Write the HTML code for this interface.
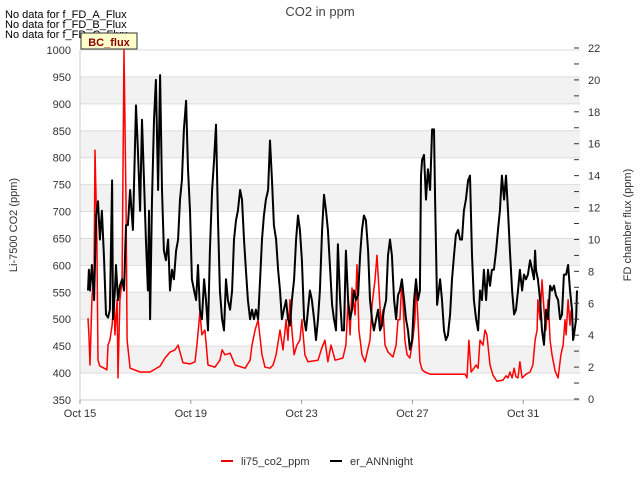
<!DOCTYPE html>
<html><head><meta charset="utf-8"><style>
body{margin:0;background:#fff;font-family:"Liberation Sans",sans-serif;}
svg text{font-family:"Liberation Sans",sans-serif;}
</style></head><body>
<svg id="c" width="640" height="480" xmlns="http://www.w3.org/2000/svg">
<text x="320" y="16" text-anchor="middle" font-size="13" fill="#444">CO2 in ppm</text>
<text x="5" y="18" font-size="11" fill="#000">No data for f_FD_A_Flux</text>
<text x="5" y="28" font-size="11" fill="#000">No data for f_FD_B_Flux</text>
<text x="5" y="38" font-size="11" fill="#000">No data for f_FD_C_Flux</text>
<g id="bands"></g>
<g id="series"></g>
<rect x="81" y="33" width="56" height="16" fill="#ffffcc" stroke="#333" stroke-width="1"/>
<text x="109" y="46" text-anchor="middle" font-size="11" font-weight="bold" fill="#8b0000">BC_flux</text>
<text transform="translate(17,225) rotate(-90)" text-anchor="middle" font-size="11" fill="#333">Li-7500 CO2 (ppm)</text>
<text transform="translate(631,225) rotate(-90)" text-anchor="middle" font-size="11" fill="#333">FD chamber flux (ppm)</text>
<line x1="221" y1="461" x2="233" y2="461" stroke="#e00" stroke-width="2"/>
<text x="241" y="465" font-size="11" fill="#333">li75_co2_ppm</text>
<line x1="330" y1="461" x2="342" y2="461" stroke="#000" stroke-width="2"/>
<text x="350" y="465" font-size="11" fill="#333">er_ANNnight</text>
</svg>
<script>
const xTickLabels=["Oct 15","Oct 19","Oct 23","Oct 27","Oct 31"];
const xTickDays=[0,4,8,12,16];
const leftTicks=[350,400,450,500,550,600,650,700,750,800,850,900,950,1000];
const rightTicks=[0,2,4,6,8,10,12,14,16,18,20,22];
const redDays=[0.29,0.32,0.36,0.43,0.51,0.54,0.58,0.61,0.65,0.72,0.87,0.97,1.01,1.08,1.16,1.23,1.26,1.34,1.37,1.44,1.52,1.59,1.66,1.70,1.81,2.17,2.53,2.89,3.07,3.25,3.43,3.54,3.61,3.72,3.97,4.15,4.22,4.33,4.40,4.51,4.62,4.87,5.05,5.13,5.23,5.42,5.60,5.96,6.14,6.21,6.32,6.43,6.50,6.57,6.68,6.86,6.97,7.08,7.22,7.33,7.44,7.51,7.58,7.65,7.73,7.83,7.94,8.01,8.12,8.23,8.59,8.74,8.84,8.95,9.06,9.21,9.49,9.60,9.68,9.75,9.82,9.93,10.0,10.07,10.18,10.29,10.47,10.54,10.65,10.72,10.79,10.87,10.94,11.01,11.12,11.30,11.41,11.48,11.55,11.62,11.73,11.81,11.91,12.02,12.09,12.13,12.20,12.27,12.35,12.45,12.64,13.90,13.97,14.04,14.12,14.22,14.30,14.37,14.44,14.55,14.62,14.69,14.80,14.91,15.05,15.27,15.38,15.45,15.52,15.60,15.67,15.74,15.81,15.88,15.96,16.10,16.25,16.35,16.43,16.50,16.53,16.61,16.68,16.75,16.82,16.90,16.97,17.04,17.15,17.26,17.36,17.44,17.51,17.55,17.62,17.69,17.73];
const redPpm=[502,471,415,536,591,814,721,638,424,413,409,406,452,461,489,536,471,536,391,536,573,1000,721,461,409,402,402,413,428,439,443,452,439,419,417,421,452,513,471,480,415,411,424,443,434,437,415,409,424,452,480,499,465,434,411,409,415,434,480,443,499,461,536,480,434,452,461,499,434,421,424,448,461,421,452,424,428,452,536,471,558,508,601,480,434,421,461,526,573,619,558,489,517,452,439,430,452,499,499,573,461,434,428,465,499,569,499,421,406,402,398,398,391,461,402,409,415,409,461,452,480,471,415,396,385,387,395,391,402,391,409,393,391,421,391,398,402,415,461,480,536,499,573,517,480,536,461,434,404,391,434,452,499,471,536,489,517];
const blackDays=[0.29,0.32,0.36,0.43,0.51,0.58,0.65,0.72,0.79,0.87,0.94,1.01,1.08,1.16,1.19,1.26,1.30,1.37,1.44,1.52,1.59,1.66,1.73,1.81,1.91,2.02,2.09,2.17,2.24,2.31,2.38,2.45,2.49,2.53,2.60,2.67,2.74,2.82,2.89,2.96,3.03,3.10,3.18,3.25,3.32,3.39,3.47,3.54,3.61,3.68,3.75,3.83,3.90,3.97,4.04,4.12,4.19,4.26,4.33,4.40,4.48,4.55,4.62,4.69,4.77,4.84,4.91,4.98,5.05,5.13,5.20,5.27,5.34,5.42,5.49,5.56,5.63,5.70,5.78,5.85,5.92,5.99,6.06,6.14,6.21,6.28,6.35,6.43,6.50,6.57,6.64,6.71,6.79,6.86,6.93,7.00,7.08,7.15,7.22,7.29,7.36,7.44,7.51,7.58,7.65,7.73,7.80,7.87,7.94,8.01,8.09,8.16,8.23,8.30,8.37,8.45,8.52,8.59,8.66,8.74,8.81,8.88,8.95,9.02,9.10,9.17,9.24,9.31,9.39,9.46,9.53,9.60,9.68,9.75,9.82,9.89,9.96,10.04,10.11,10.18,10.25,10.32,10.40,10.47,10.54,10.61,10.69,10.76,10.83,10.90,10.97,11.05,11.12,11.19,11.26,11.34,11.41,11.48,11.55,11.62,11.70,11.77,11.84,11.91,11.99,12.06,12.13,12.20,12.27,12.31,12.35,12.42,12.49,12.56,12.64,12.71,12.78,12.82,12.89,13.00,13.07,13.14,13.21,13.28,13.36,13.43,13.50,13.57,13.65,13.72,13.79,13.86,13.93,14.01,14.08,14.15,14.22,14.30,14.37,14.44,14.51,14.58,14.66,14.73,14.80,14.87,14.94,15.02,15.09,15.16,15.23,15.31,15.38,15.45,15.52,15.60,15.67,15.74,15.81,15.88,15.96,16.03,16.10,16.17,16.25,16.32,16.39,16.43,16.46,16.53,16.61,16.68,16.75,16.82,16.90,16.97,17.04,17.11,17.18,17.26,17.33,17.40,17.47,17.55,17.62,17.69,17.76,17.80,17.83,17.91,17.94];
const blackFlux=[6.8,8.1,6.8,8.4,6.2,11.5,12.4,10.0,11.8,8.7,5.3,5.1,5.6,13.7,5.0,6.8,8.4,6.2,7.1,7.5,6.8,10.9,10.9,13.1,10.6,18.4,15.6,11.8,17.5,13.7,10.0,6.8,11.8,5.0,12.5,17.5,20.0,13.1,20.3,13.1,9.3,8.7,10.0,6.8,8.1,7.5,9.3,10.0,12.5,13.7,16.9,18.7,14.4,11.8,7.5,6.8,6.2,8.4,5.6,5.0,7.5,6.2,4.3,9.3,13.1,15.0,17.2,11.2,6.8,5.0,4.3,7.5,6.2,5.6,6.8,10.0,11.2,11.8,13.1,12.5,10.0,8.1,6.2,5.0,5.6,5.0,5.6,5.0,7.5,10.0,11.5,12.5,13.1,16.2,13.7,10.9,10.0,8.1,6.8,5.0,5.6,6.2,5.0,4.6,6.2,7.5,10.0,11.5,10.6,8.7,5.0,4.3,5.6,6.8,6.2,5.0,3.7,5.0,6.8,10.6,12.8,11.8,10.6,8.4,5.9,5.0,4.3,9.7,6.2,4.3,4.3,9.3,6.2,5.0,5.6,6.8,6.2,6.5,9.0,10.6,11.5,11.2,9.3,6.2,5.0,4.3,5.0,5.6,4.3,4.6,5.6,6.2,9.0,10.0,9.0,6.2,5.0,6.5,6.8,7.5,6.2,5.0,4.3,3.1,3.7,6.2,7.5,6.2,6.8,14.0,15.0,15.3,12.5,14.4,13.1,16.9,16.9,12.5,5.9,7.5,6.2,4.3,3.7,4.0,5.3,7.5,9.0,10.3,10.6,10.0,10.0,11.8,12.5,13.7,14.0,9.0,6.2,5.0,4.3,6.8,6.2,8.1,6.2,8.1,7.1,8.1,8.1,9.3,10.6,11.8,14.0,12.5,14.0,11.8,9.3,6.8,5.3,5.6,6.8,8.1,6.8,7.8,7.5,7.8,8.7,8.1,7.5,9.3,8.1,7.5,6.2,4.3,3.4,5.6,5.0,7.1,6.8,7.1,6.5,6.2,5.0,5.3,7.8,7.8,8.4,6.8,5.6,3.7,4.0,5.0,6.8];

const NS="http://www.w3.org/2000/svg";
const L=80,R=580,T=50,B=400;
const xS=d=>L+d*(R-L)/18.05;
const yL=v=>B-(v-350)*(B-T)/650;
const yR=v=>399-v*(399-48)/22;
function mk(tag,attrs,parent){const e=document.createElementNS(NS,tag);for(const k in attrs)e.setAttribute(k,attrs[k]);parent.appendChild(e);return e;}
const svg=document.getElementById('c');
const bands=document.getElementById('bands');
const series=document.getElementById('series');
// shaded bands
for(let v=400;v<1000;v+=100){
  const r=mk('rect',{x:L,y:yL(v+50),width:R-L,height:yL(v)-yL(v+50),fill:'#f2f2f2'},bands);
  
  
}
leftTicks.forEach(v=>{
  const g=mk('line',{x1:L,x2:R,y1:yL(v),y2:yL(v),stroke:'#ddd','stroke-width':1},bands);
  
  
  const t=mk('text',{x:L-9,y:yL(v)+4,'text-anchor':'end','font-size':11,fill:'#333'},svg);
  t.textContent=v;
  
  
});
const ax=mk('line',{x1:L,x2:L,y1:T,y2:B,stroke:'#ccc'},bands);


const bx=mk('line',{x1:L,x2:R,y1:B,y2:B,stroke:'#ccc'},bands);


rightTicks.forEach(v=>{
  const t=mk('text',{x:588,y:yR(v)+4,'font-size':11,fill:'#333'},svg);
  t.textContent=v;
  
  
});
for(let v=0;v<=22;v++){
  const tk=mk('line',{x1:574,x2:579,y1:yR(v),y2:yR(v),stroke:'#333'},svg);
  
  
}
xTickDays.forEach((d,i)=>{
  const tk=mk('line',{x1:xS(d),x2:xS(d),y1:B,y2:B+4,stroke:'#999'},svg);
  
  
  const t=mk('text',{x:xS(d),y:B+17,'text-anchor':'middle','font-size':11,fill:'#333'},svg);
  t.textContent=xTickLabels[i];
  
  
});
const rp=redDays.map((d,i)=>xS(d).toFixed(1)+','+yL(redPpm[i]).toFixed(1)).join(' ');
const red=mk('polyline',{points:rp,fill:'none',stroke:'#f00','stroke-width':1.5,'stroke-linejoin':'round'},series);


const bp=blackDays.map((d,i)=>xS(d).toFixed(1)+','+yR(blackFlux[i]).toFixed(1)).join(' ');
const blk=mk('polyline',{points:bp,fill:'none',stroke:'#000','stroke-width':2,'stroke-linejoin':'round'},series);


</script>
</body></html>
